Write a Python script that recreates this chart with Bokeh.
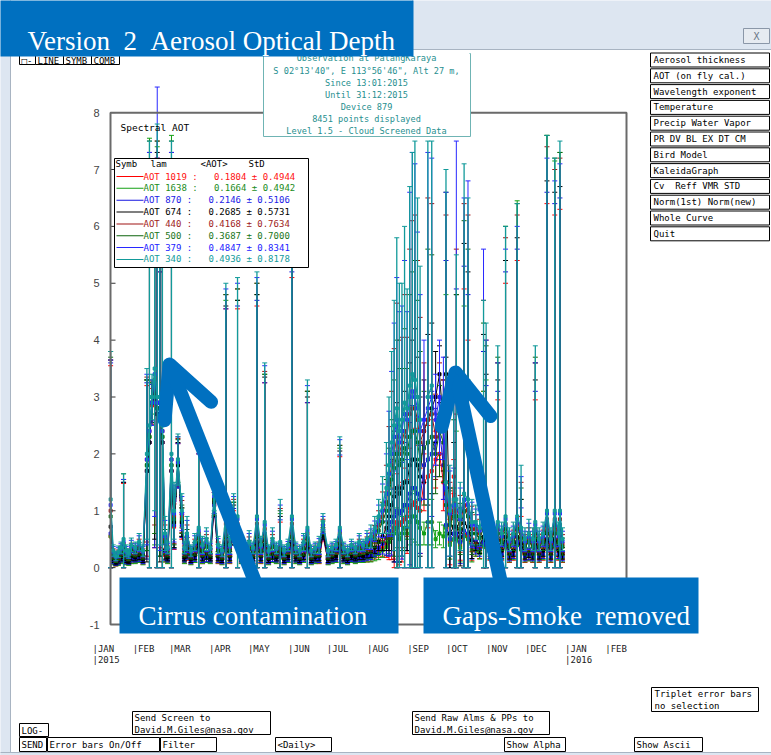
import re
import numpy as np
from bokeh.plotting import figure
from bokeh.models import Label, BoxAnnotation, Arrow, OpenHead, Range1d, ColumnDataSource
from bokeh.core.properties import value
from bokeh.embed import file_html
from bokeh.resources import INLINE

nan = float("nan")

# ---------------- data: day of year 2015, daily mean AOT and daily standard deviation ----------------
days = [15, 17, 19, 21, 23, 25, 27, 29, 31,
        34, 37, 40, 43, 45, 47, 49, 51, 53, 55, 57, 59,
        62, 64, 67, 70, 72, 74, 77, 80, 83, 86, 89,
        92, 95, 98, 101, 104, 107, 110, 113, 116, 119,
        122, 125, 128, 131, 134, 137, 140, 143, 146, 149,
        152, 155, 158, 161, 164, 167, 170, 173, 176, 179,
        183, 186, 189, 192, 195, 198, 201, 204, 207, 210,
        213, 216, 219, 222, 225, 228, 230, 232, 234, 236, 238, 240, 242,
        244, 246, 248, 250, 252, 254, 257, 260, 263, 266, 269, 272,
        274, 277, 280, 282, 285, 288, 291, 294, 297, 300, 303,
        305, 308, 311, 314, 317, 320, 323, 326, 329, 332,
        335, 338, 341, 343, 346, 349, 352, 355, 358, 361, 362, 364]

aot340 = [1.2, 0.3, 0.2, 0.28, 0.35, 0.5, 0.3, 0.25, 0.4,
          0.35, 0.45, 0.3, 2.0, 2.5, 3.0, 3.5, 3.0, 3.0, 2.5, 0.6, 0.35,
          2.0, 1.0, 1.9, 1.0, 0.35, 0.6, 0.3, 0.45, 0.7, 0.4, 0.5,
          0.35, 1.3, 0.4, 0.3, 0.9, 0.4, 0.9, 0.9, 0.35, 0.3,
          0.45, 0.35, 0.9, 0.4, 0.8, 0.3, 0.5, 0.35, 0.45, 0.3,
          0.4, 0.9, 0.35, 0.3, 0.45, 0.7, 0.3, 0.35, 0.4, 0.8,
          0.3, 0.35, 0.4, 0.7, 0.35, 0.3, 0.4, 0.35, 0.45, 0.4,
          0.5, 0.55, 0.7, 0.9, 1.1, 1.4, 1.8, 2.2, 2.5, 2.8, 2.4, 2.6, 2.9,
          2.8, 3.2, 3.4, 3.3, 3.0, 2.6, nan, 3.0, 3.2, nan, nan, nan,
          1.5, 1.0, 1.2, 1.2, 0.9, 1.3, 1.2, 0.8, 0.8, 0.7, 0.9,
          0.8, 0.6, 0.5, 0.8, 0.6, 0.9, 0.5, 0.6, 0.9, 0.7,
          0.5, 0.6, 0.5, 0.8, 0.5, 0.6, 1.0, 0.5, 1.0, 0.6, 1.0, 0.5]
std340 = [2.6, 0.1, 0.08, 0.1, 0.1, 1.15, 0.1, 0.08, 0.12,
          0.1, 0.15, 0.1, 1.5, 5.0, 0.4, 2.5, 4.8, 2.6, 3.5, 0.3, 0.1,
          5.5, 0.5, 0.45, 0.3, 0.1, 0.3, 0.1, 0.15, 1.6, 0.15, 0.2,
          0.1, 0.3, 0.15, 0.1, 4.1, 0.15, 0.4, 4.2, 0.1, 0.1,
          0.2, 0.1, 4.3, 0.15, 2.8, 0.1, 0.2, 0.1, 0.75, 0.1,
          0.1, 4.8, 0.1, 0.1, 0.15, 2.6, 0.1, 0.1, 0.15, 0.15,
          0.1, 0.1, 0.1, 1.6, 0.1, 0.1, 0.1, 0.1, 0.15, 0.1,
          0.15, 0.2, 0.2, 0.3, 0.5, 0.8, 1.2, 1.6, 2.2, 3.0, 2.6, 2.4, 3.1,
          2.1, 3.5, 3.9, 4.2, 3.5, 2.7, nan, 4.5, 4.3, nan, nan, nan,
          5.5, 0.8, 2.3, 4.3, 0.6, 5.8, 5.3, 0.4, 0.3, 0.3, 3.8,
          3.5, 0.2, 0.2, 3.1, 0.2, 5.1, 0.2, 0.2, 5.5, 1.1,
          0.2, 0.25, 0.2, 3.1, 0.2, 0.2, 6.6, 0.2, 6.2, 0.2, 6.5, 0.2]

aot379 = [1.1, 0.28, 0.19, 0.26, 0.33, 0.45, 0.28, 0.23, 0.37,
          0.33, 0.42, 0.28, 1.9, 2.4, 2.9, 3.4, 2.9, 2.9, 2.4, 0.55, 0.33,
          1.9, 0.95, 1.85, 0.95, 0.33, 0.55, 0.28, 0.42, 0.65, 0.37, 0.46,
          0.33, 1.25, 0.37, 0.28, 0.85, 0.37, 0.85, 0.85, 0.33, 0.28,
          0.42, 0.33, 0.85, 0.37, 0.75, 0.28, 0.46, 0.33, 0.42, 0.28,
          0.37, 0.85, 0.33, 0.28, 0.42, 0.65, 0.28, 0.33, 0.37, 0.75,
          0.28, 0.33, 0.37, 0.65, 0.33, 0.28, 0.37, 0.33, 0.42, 0.37,
          0.46, 0.5, 0.64, 0.82, 1.0, 1.3, 1.65, 2.0, 2.3, 2.6, 2.2, 2.4, 2.7,
          2.6, 3.0, 3.1, 3.0, 2.8, 2.4, 2.6, 2.8, 3.0, 2.6, 3.0, 2.8,
          1.4, 0.95, 1.1, 1.1, 0.85, 1.2, 1.1, 0.75, 0.75, 0.65, 0.85,
          0.75, 0.55, 0.46, 0.75, 0.55, 0.85, 0.46, 0.55, 0.85, 0.65,
          0.46, 0.55, 0.46, 0.75, 0.46, 0.55, 0.95, 0.46, 0.95, 0.55, 0.95, 0.46]
std379 = [2.55, 0.09, 0.07, 0.09, 0.09, 1.1, 0.09, 0.07, 0.11,
          0.09, 0.14, 0.09, 1.5, 4.9, 0.4, 2.5, 5.55, 2.6, 3.5, 0.28, 0.09,
          5.4, 0.5, 0.45, 0.3, 0.09, 0.28, 0.09, 0.14, 1.6, 0.14, 0.18,
          0.09, 0.3, 0.14, 0.09, 4.05, 0.14, 0.4, 4.15, 0.09, 0.09,
          0.18, 0.09, 4.25, 0.14, 2.8, 0.09, 0.18, 0.09, 0.68, 0.09,
          0.09, 4.75, 0.09, 0.09, 0.14, 2.55, 0.09, 0.09, 0.14, 0.15,
          0.09, 0.09, 0.09, 1.6, 0.09, 0.09, 0.09, 0.09, 0.14, 0.09,
          0.14, 0.18, 0.18, 0.28, 0.47, 0.7, 1.1, 1.45, 2.0, 2.5, 2.3, 2.2, 2.7,
          1.9, 3.6, 4.2, 4.1, 3.1, 2.4, 1.4, 4.5, 4.2, 0.8, 1.0, 0.9,
          5.2, 0.75, 2.1, 6.4, 0.55, 5.3, 5.7, 0.4, 0.28, 0.28, 4.75,
          3.25, 0.18, 0.18, 2.85, 0.18, 4.75, 0.18, 0.18, 5.15, 0.95,
          0.18, 0.23, 0.18, 2.85, 0.18, 0.18, 6.25, 0.18, 5.85, 0.18, 6.15, 0.18]

aot440 = [1.0, 0.25, 0.17, 0.23, 0.3, 0.42, 0.25, 0.2, 0.33,
          0.3, 0.38, 0.25, 1.9, 2.4, 2.9, 3.3, 2.9, 2.9, 2.4, 0.5, 0.3,
          1.9, 0.9, 1.85, 0.9, 0.3, 0.5, 0.25, 0.38, 0.6, 0.33, 0.42,
          0.3, 1.2, 0.33, 0.25, 0.77, 0.33, 0.82, 0.77, 0.3, 0.25,
          0.38, 0.3, 0.77, 0.33, 0.68, 0.25, 0.42, 0.3, 0.38, 0.25,
          0.33, 0.77, 0.3, 0.25, 0.38, 0.6, 0.25, 0.3, 0.33, 0.72,
          0.25, 0.3, 0.33, 0.6, 0.3, 0.25, 0.33, 0.3, 0.38, 0.33,
          0.42, 0.45, 0.58, 0.75, 0.9, 1.15, 1.5, 1.8, 2.0, 2.3, 2.0, 2.2, 2.4,
          2.3, 2.7, 2.8, 2.8, 2.6, 2.2, 2.4, 2.6, 2.7, 2.3, 2.7, 2.5,
          1.3, 0.85, 1.0, 1.0, 0.77, 1.1, 1.0, 0.68, 0.68, 0.6, 0.77,
          0.68, 0.5, 0.42, 0.68, 0.5, 0.77, 0.42, 0.5, 0.77, 0.6,
          0.42, 0.5, 0.42, 0.68, 0.42, 0.5, 0.85, 0.42, 0.85, 0.5, 0.85, 0.42]
std440 = [2.65, 0.08, 0.07, 0.08, 0.08, 1.13, 0.08, 0.07, 0.1,
          0.08, 0.12, 0.08, 1.45, 4.9, 0.38, 2.55, 4.6, 2.55, 3.45, 0.25, 0.08,
          5.4, 0.48, 0.42, 0.28, 0.08, 0.25, 0.08, 0.12, 1.58, 0.12, 0.16,
          0.08, 0.28, 0.12, 0.08, 4.03, 0.12, 0.38, 4.13, 0.08, 0.08,
          0.16, 0.08, 4.23, 0.12, 2.77, 0.08, 0.16, 0.08, 0.66, 0.08,
          0.08, 4.73, 0.08, 0.08, 0.12, 2.5, 0.08, 0.08, 0.12, 0.13,
          0.08, 0.08, 0.08, 1.55, 0.08, 0.08, 0.08, 0.08, 0.12, 0.08,
          0.12, 0.16, 0.16, 0.25, 0.43, 0.65, 0.98, 1.3, 1.85, 2.35, 2.0, 1.85, 2.4,
          1.75, 2.9, 3.3, 3.4, 2.8, 2.2, 1.2, 3.9, 3.7, 0.75, 0.9, 0.8,
          4.9, 0.65, 2.0, 4.6, 0.5, 5.3, 5.2, 0.4, 0.25, 0.25, 3.93,
          3.32, 0.16, 0.16, 2.92, 0.16, 5.03, 0.16, 0.16, 5.43, 0.9,
          0.16, 0.2, 0.16, 2.92, 0.16, 0.16, 6.55, 0.16, 6.15, 0.16, 6.35, 0.16]

aot500 = [0.9, 0.22, 0.15, 0.2, 0.26, 0.38, 0.22, 0.18, 0.3,
          0.26, 0.33, 0.22, 1.8, 2.3, 2.9, 3.2, 2.8, 2.8, 2.3, 0.45, 0.26,
          1.8, 0.85, 1.85, 0.85, 0.26, 0.45, 0.22, 0.33, 0.52, 0.3, 0.37,
          0.26, 1.2, 0.3, 0.22, 0.68, 0.3, 0.8, 0.68, 0.26, 0.22,
          0.33, 0.26, 0.68, 0.3, 0.6, 0.22, 0.37, 0.26, 0.34, 0.22,
          0.3, 0.68, 0.26, 0.22, 0.33, 0.52, 0.22, 0.26, 0.3, 0.7,
          0.22, 0.26, 0.3, 0.52, 0.26, 0.22, 0.3, 0.26, 0.33, 0.3,
          0.37, 0.4, 0.5, 0.65, 0.8, 1.0, 1.3, 1.55, 1.75, 2.0, 1.8, 1.9, 2.1,
          2.0, 2.3, 2.4, 2.4, 2.2, 1.9, 2.1, 2.2, 2.3, 2.0, 2.4, 2.2,
          1.1, 0.75, 0.9, 0.9, 0.68, 1.0, 0.9, 0.6, 0.6, 0.52, 0.68,
          0.6, 0.45, 0.37, 0.6, 0.45, 0.68, 0.37, 0.45, 0.68, 0.52,
          0.37, 0.45, 0.37, 0.6, 0.37, 0.45, 0.75, 0.37, 0.75, 0.45, 0.75, 0.37]
std500 = [2.8, 0.07, 0.06, 0.07, 0.08, 1.17, 0.07, 0.06, 0.09,
          0.07, 0.11, 0.07, 1.5, 5.2, 0.35, 2.6, 4.7, 2.6, 3.5, 0.22, 0.07,
          5.7, 0.45, 0.4, 0.25, 0.07, 0.22, 0.07, 0.11, 1.63, 0.11, 0.15,
          0.07, 0.28, 0.11, 0.07, 4.12, 0.11, 0.35, 4.22, 0.07, 0.07,
          0.15, 0.07, 4.32, 0.11, 2.8, 0.07, 0.15, 0.07, 0.66, 0.07,
          0.07, 4.82, 0.07, 0.07, 0.11, 2.58, 0.07, 0.07, 0.11, 0.12,
          0.07, 0.07, 0.07, 1.63, 0.07, 0.07, 0.07, 0.07, 0.11, 0.07,
          0.11, 0.15, 0.15, 0.22, 0.35, 0.55, 0.8, 1.05, 1.55, 2.0, 1.7, 1.6, 2.1,
          1.5, 2.5, 2.8, 3.0, 2.5, 1.9, 1.0, 3.4, 3.2, 0.7, 0.8, 0.7,
          5.5, 0.6, 1.7, 3.9, 0.45, 5.1, 4.7, 0.37, 0.22, 0.22, 3.62,
          3.3, 0.15, 0.15, 3.1, 0.15, 5.32, 0.15, 0.15, 5.72, 0.88,
          0.15, 0.18, 0.15, 3.1, 0.15, 0.15, 6.85, 0.15, 6.45, 0.15, 6.55, 0.15]

aot674 = [0.72, 0.15, 0.1, 0.14, 0.18, 0.3, 0.15, 0.12, 0.2,
          0.18, 0.22, 0.15, 1.7, 2.2, 2.9, 3.1, 2.7, 2.7, 2.2, 0.3, 0.18,
          1.7, 0.8, 1.8, 0.8, 0.18, 0.35, 0.15, 0.22, 0.42, 0.2, 0.25,
          0.18, 1.15, 0.2, 0.15, 0.54, 0.2, 0.75, 0.54, 0.18, 0.15,
          0.22, 0.18, 0.54, 0.2, 0.48, 0.15, 0.25, 0.18, 0.27, 0.15,
          0.2, 0.54, 0.18, 0.15, 0.22, 0.42, 0.15, 0.18, 0.2, 0.6,
          0.15, 0.18, 0.2, 0.42, 0.18, 0.15, 0.2, 0.18, 0.22, 0.2,
          0.25, 0.28, 0.35, 0.45, 0.55, 0.7, 0.9, 1.1, 1.25, 1.4, 1.3, 1.4, 1.5,
          1.5, 1.8, 1.9, 1.9, 1.8, 1.6, 2.4, 2.6, 2.8, 3.0, 3.4, 2.5,
          3.4, 0.6, 0.72, 0.72, 0.54, 0.78, 0.72, 0.48, 0.45, 0.4, 0.54,
          0.48, 0.3, 0.25, 0.48, 0.3, 0.54, 0.25, 0.3, 0.54, 0.42,
          0.25, 0.3, 0.25, 0.48, 0.25, 0.3, 0.6, 0.25, 0.6, 0.3, 0.6, 0.25]
std674 = [2.93, 0.06, 0.05, 0.06, 0.06, 1.2, 0.06, 0.05, 0.07,
          0.06, 0.08, 0.06, 1.6, 4.9, 0.35, 2.6, 4.6, 2.6, 3.5, 0.15, 0.06,
          5.4, 0.45, 0.4, 0.25, 0.06, 0.18, 0.06, 0.08, 1.68, 0.08, 0.1,
          0.06, 0.25, 0.08, 0.06, 4.06, 0.08, 0.35, 4.16, 0.06, 0.06,
          0.1, 0.06, 4.26, 0.08, 2.87, 0.06, 0.1, 0.06, 0.63, 0.06,
          0.06, 4.76, 0.06, 0.06, 0.08, 2.58, 0.06, 0.06, 0.08, 0.1,
          0.06, 0.06, 0.06, 1.63, 0.06, 0.06, 0.06, 0.06, 0.08, 0.06,
          0.08, 0.1, 0.1, 0.15, 0.25, 0.4, 0.6, 0.8, 1.15, 1.5, 1.2, 1.2, 1.6,
          1.2, 1.8, 2.1, 2.3, 1.9, 1.4, 0.9, 1.5, 1.5, 0.8, 0.5, 0.8,
          0.3, 0.8, 1.48, 4.08, 0.51, 4.92, 4.48, 0.32, 0.15, 0.15, 3.56,
          2.92, 0.1, 0.1, 2.82, 0.1, 4.86, 0.1, 0.1, 5.26, 0.78,
          0.1, 0.12, 0.1, 2.82, 0.1, 0.1, 6.2, 0.1, 6.0, 0.1, 6.1, 0.1]

aot870 = [0.6, 0.12, 0.08, 0.11, 0.15, 0.25, 0.12, 0.1, 0.16,
          0.15, 0.18, 0.12, 1.7, 2.2, 2.9, 3.0, 2.7, 2.7, 2.2, 0.27, 0.15,
          1.7, 0.75, 1.8, 0.75, 0.15, 0.3, 0.12, 0.18, 0.35, 0.16, 0.2,
          0.15, 1.1, 0.16, 0.12, 0.45, 0.16, 0.72, 0.45, 0.15, 0.12,
          0.18, 0.15, 0.45, 0.16, 0.4, 0.12, 0.2, 0.15, 0.22, 0.12,
          0.16, 0.45, 0.15, 0.12, 0.18, 0.35, 0.12, 0.15, 0.16, 0.58,
          0.12, 0.15, 0.16, 0.35, 0.15, 0.12, 0.16, 0.15, 0.18, 0.16,
          0.2, 0.22, 0.27, 0.35, 0.42, 0.52, 0.65, 0.8, 0.9, 1.0, 0.95, 1.0, 1.1,
          1.1, 1.3, 1.4, 1.4, 1.3, 1.2, 1.8, 1.9, 2.0, 2.2, 2.4, 1.8,
          0.75, 0.5, 0.6, 0.6, 0.45, 0.65, 0.6, 0.4, 0.36, 0.32, 0.45,
          0.4, 0.24, 0.2, 0.4, 0.24, 0.45, 0.2, 0.24, 0.45, 0.35,
          0.2, 0.24, 0.2, 0.4, 0.2, 0.24, 0.5, 0.2, 0.5, 0.24, 0.5, 0.2]
std870 = [3.0, 0.05, 0.04, 0.05, 0.05, 1.25, 0.05, 0.04, 0.06,
          0.05, 0.07, 0.05, 1.55, 4.9, 0.32, 2.65, 4.5, 2.5, 3.45, 0.14, 0.05,
          5.4, 0.42, 0.38, 0.22, 0.05, 0.15, 0.05, 0.07, 1.65, 0.07, 0.09,
          0.05, 0.22, 0.07, 0.05, 4.1, 0.07, 0.32, 4.15, 0.05, 0.05,
          0.09, 0.05, 4.25, 0.07, 2.85, 0.05, 0.09, 0.05, 0.62, 0.05,
          0.05, 4.75, 0.05, 0.05, 0.07, 2.55, 0.05, 0.05, 0.07, 0.09,
          0.05, 0.05, 0.05, 1.63, 0.05, 0.05, 0.05, 0.05, 0.07, 0.05,
          0.07, 0.08, 0.08, 0.12, 0.18, 0.3, 0.45, 0.58, 0.8, 1.05, 0.85, 0.85, 1.1,
          0.8, 1.25, 1.45, 1.6, 1.35, 0.95, 0.6, 1.1, 1.1, 0.6, 0.5, 0.6,
          4.65, 0.6, 1.15, 4.3, 0.38, 4.65, 4.2, 0.25, 0.12, 0.12, 3.35,
          2.8, 0.08, 0.08, 2.7, 0.08, 4.75, 0.08, 0.08, 5.15, 0.7,
          0.08, 0.1, 0.08, 2.7, 0.08, 0.08, 6.1, 0.08, 5.9, 0.08, 6.0, 0.08]

aot1019 = [0.55, 0.1, 0.06, 0.09, 0.12, 0.22, 0.1, 0.08, 0.13,
           0.12, 0.15, 0.1, 1.7, 2.2, 2.85, 3.0, 2.7, 2.7, 2.2, 0.22, 0.12,
           1.7, 0.72, 1.8, 0.72, 0.12, 0.26, 0.1, 0.15, 0.32, 0.13, 0.17,
           0.12, 1.1, 0.13, 0.1, 0.4, 0.13, 0.7, 0.4, 0.12, 0.1,
           0.15, 0.12, 0.4, 0.13, 0.36, 0.1, 0.17, 0.12, 0.2, 0.1,
           0.13, 0.4, 0.12, 0.1, 0.15, 0.32, 0.1, 0.12, 0.13, 0.55,
           0.1, 0.12, 0.13, 0.32, 0.12, 0.1, 0.13, 0.12, 0.15, 0.13,
           0.16, 0.18, 0.22, 0.28, 0.34, 0.42, 0.52, 0.62, 0.7, 0.8, 0.75, 0.8, 0.85,
           0.9, 1.05, 1.1, 1.15, 1.05, 1.0, 1.5, 1.6, 1.7, 1.9, 2.0, 1.5,
           1.5, 0.45, 1.6, 0.55, 0.4, 0.58, 0.55, 0.32, 0.3, 0.26, 0.4,
           0.36, 0.2, 0.16, 0.36, 0.2, 0.4, 0.16, 0.2, 0.4, 0.32,
           0.16, 0.2, 0.16, 0.36, 0.16, 0.2, 0.45, 0.16, 0.45, 0.2, 0.45, 0.16]
std1019 = [3.0, 0.04, 0.03, 0.04, 0.04, 1.26, 0.04, 0.03, 0.05,
           0.04, 0.06, 0.04, 1.5, 4.9, 0.3, 2.65, 4.5, 2.5, 3.45, 0.12, 0.04,
           5.4, 0.4, 0.38, 0.22, 0.04, 0.13, 0.04, 0.06, 1.68, 0.06, 0.08,
           0.04, 0.22, 0.06, 0.04, 4.15, 0.06, 0.3, 4.15, 0.04, 0.04,
           0.08, 0.04, 4.2, 0.06, 2.89, 0.04, 0.08, 0.04, 0.6, 0.04,
           0.04, 4.7, 0.04, 0.04, 0.06, 2.58, 0.04, 0.04, 0.06, 0.08,
           0.04, 0.04, 0.04, 1.63, 0.04, 0.04, 0.04, 0.04, 0.06, 0.04,
           0.06, 0.07, 0.07, 0.1, 0.14, 0.24, 0.38, 0.48, 0.7, 0.85, 0.7, 0.7, 0.9,
           0.65, 1.05, 1.25, 1.3, 1.1, 0.75, 0.5, 0.9, 0.9, 0.5, 0.4, 0.5,
           0.3, 0.4, 0.3, 2.15, 0.27, 4.32, 3.45, 0.2, 0.1, 0.1, 2.7,
           2.44, 0.07, 0.07, 2.59, 0.07, 4.6, 0.07, 0.07, 5.0, 0.58,
           0.07, 0.08, 0.07, 2.59, 0.07, 0.07, 5.95, 0.07, 5.75, 0.07, 5.85, 0.07]

aot1638 = [0.55, 0.1, 0.07, 0.09, 0.12, 0.22, 0.1, 0.08, 0.13,
           0.12, 0.15, 0.1, 1.8, 2.3, 3.0, 3.1, 2.8, 2.8, 2.3, 0.25, 0.12,
           1.8, 0.8, 1.9, 0.8, 0.12, 0.3, 0.1, 0.15, 0.32, 0.13, 0.17,
           0.12, 1.2, 0.14, 0.1, 0.4, 0.14, 0.8, 0.4, 0.12, 0.1,
           0.15, 0.12, 0.4, 0.14, 0.36, 0.1, 0.17, 0.12, 0.2, 0.1,
           0.14, 0.4, 0.12, 0.1, 0.15, 0.32, 0.1, 0.12, 0.14, 0.65,
           0.1, 0.12, 0.14, 0.32, 0.12, 0.1, 0.14, 0.12, 0.15, 0.14,
           0.16, 0.17, 0.2, 0.24, 0.3, 0.36, 0.45, 0.55, 0.6, 0.7, 0.5, 0.6, 0.7,
           0.6, 0.8, 0.9, 0.9, 0.8, 0.7, 0.6, 0.8, 0.8, 0.5, 0.6, 0.55,
           0.7, 0.4, 0.5, 0.5, 0.35, 0.55, 0.5, 0.3, 0.3, 0.25, 0.4,
           0.36, 0.22, 0.18, 0.36, 0.22, 0.4, 0.18, 0.22, 0.4, 0.32,
           0.18, 0.22, 0.18, 0.36, 0.18, 0.22, 0.45, 0.18, 0.45, 0.22, 0.45, 0.18]
std1638 = [3.25, 0.05, 0.04, 0.05, 0.05, 1.43, 0.05, 0.04, 0.06,
           0.05, 0.06, 0.05, 1.5, 5.25, 0.3, 2.7, 4.6, 2.6, 3.5, 0.15, 0.05,
           5.8, 0.45, 0.4, 0.25, 0.05, 0.15, 0.05, 0.06, 1.83, 0.06, 0.08,
           0.05, 0.25, 0.06, 0.05, 4.3, 0.06, 0.35, 4.3, 0.05, 0.05,
           0.08, 0.05, 4.4, 0.06, 3.04, 0.05, 0.08, 0.05, 0.75, 0.05,
           0.05, 4.9, 0.05, 0.05, 0.06, 2.78, 0.05, 0.05, 0.06, 0.1,
           0.05, 0.05, 0.05, 1.78, 0.05, 0.05, 0.05, 0.05, 0.06, 0.05,
           0.06, 0.07, 0.08, 0.1, 0.12, 0.15, 0.2, 0.25, 0.3, 0.35, 0.3, 0.3, 0.35,
           0.3, 0.4, 0.4, 0.45, 0.4, 0.3, 0.2, 0.4, 0.4, 0.15, 0.2, 0.2,
           4.1, 0.4, 0.9, 1.9, 0.25, 4.05, 2.8, 0.2, 0.1, 0.1, 2.7,
           2.94, 0.08, 0.08, 3.24, 0.08, 5.6, 0.08, 0.08, 6.05, 0.88,
           0.08, 0.1, 0.08, 3.24, 0.08, 0.08, 7.15, 0.08, 6.7, 0.08, 6.85, 0.08]

wavelengths = ["1019", "1638", "870", "674", "440", "500", "379", "340"]
mean_text = ["0.1804", "0.1664", "0.2146", "0.2685", "0.4168", "0.3687", "0.4847", "0.4936"]
std_text = ["0.4944", "0.4942", "0.5106", "0.5731", "0.7634", "0.7000", "0.8341", "0.8178"]

month_days = [1, 32, 60, 91, 121, 152, 182, 213, 244, 274, 305, 335, 366, 397]
month_names = ["JAN", "FEB", "MAR", "APR", "MAY", "JUN", "JUL", "AUG", "SEP", "OCT", "NOV", "DEC", "JAN", "FEB"]
month_years = ["2015", "", "", "", "", "", "", "", "", "", "", "", "2016", ""]
y_ticks = [-1, 0, 1, 2, 3, 4, 5, 6, 7, 8]

right_buttons = ["Aerosol thickness", "AOT (on fly cal.)", "Wavelength exponent", "Temperature",
                 "Precip Water Vapor", "PR DV BL EX DT CM", "Bird Model", "KaleidaGraph",
                 "Cv  Reff VMR STD", "Norm(1st) Norm(new)", "Whole Curve", "Quit"]
info_lines = ["Observation at PalangKaraya", "S 02\u00b013'40\", E 113\u00b056'46\", Alt 27 m,",
              "Since 13:01:2015", "Until 31:12:2015", "Device 879",
              "8451 points displayed", "Level 1.5 - Cloud Screened Data"]

series_data = {"1019": (aot1019, std1019), "1638": (aot1638, std1638), "870": (aot870, std870),
               "674": (aot674, std674), "440": (aot440, std440), "500": (aot500, std500),
               "379": (aot379, std379), "340": (aot340, std340)}

# ---------------- styles / layout ----------------
colors = {"1019": "#ff0000", "1638": "#14a014", "870": "#1414e0", "674": "#000000",
          "440": "#a01414", "500": "#0c640c", "379": "#2828ff", "340": "#129a9a"}
text_colors = {"1019": "#ff1010", "1638": "#1a8c1a", "870": "#1a1ae6", "674": "#000000",
               "440": "#a01c1c", "500": "#1a761a", "379": "#2222ff", "340": "#139b9b"}
MONO = "DejaVu Sans Mono"
SERIF = "Liberation Serif"
BLUE = "#0070c0"

W, H = 771, 755
PX_PER_DAY = 1.2948          # horizontal scale, pixels per day
X_JAN1 = 92                   # pixel column of 1 Jan 2015
PX_PER_UNIT = 56.875          # vertical scale, pixels per AOT unit
Y_MINUS1 = 624                # pixel row of AOT = -1
FRAME_L, FRAME_R = 110, 626   # pixel columns of the plot box


def day_at(X):
    return 1 + (X - X_JAN1) / PX_PER_DAY


def aot_at(Y):
    return -1 + (Y_MINUS1 - Y) / PX_PER_UNIT


p = figure(width=W, height=H, output_backend="svg", toolbar_location=None,
           x_range=Range1d(day_at(0), day_at(W)), y_range=Range1d(aot_at(H), aot_at(0)),
           min_border=0, x_axis_location=None, y_axis_location=None)
p.outline_line_color = None
p.grid.visible = False
p.background_fill_color = "white"
p.border_fill_color = "white"


def sx(X):
    return X


def sy(Y):
    return H - Y


def keep_spaces(t):
    return re.sub(r" {2,}", lambda mm: "\u00a0" * len(mm.group(0)), t)


def box(x0, y0, x1, y1, fill="white", line="black", lw=1):
    p.add_layout(BoxAnnotation(left=sx(x0), right=sx(x1), top=sy(y0), bottom=sy(y1),
                               left_units="screen", right_units="screen",
                               top_units="screen", bottom_units="screen",
                               fill_color=fill, fill_alpha=1.0 if fill else 0.0,
                               line_color=line, line_alpha=1.0, line_width=lw, line_dash="solid"))


def text(X, Y, t, size="9px", color="black", font=MONO, align="left", baseline="middle"):
    p.add_layout(Label(x=sx(X), y=sy(Y), x_units="screen", y_units="screen", text=keep_spaces(t),
                       text_font=font, text_font_size=size, text_color=color,
                       text_align=align, text_baseline=baseline))


# ---------------- data glyphs ----------------
x = np.array(days, dtype=float)
for wl in wavelengths:
    m = np.array(series_data[wl][0], dtype=float)
    s = np.array(series_data[wl][1], dtype=float)
    lo = np.maximum(m - s, 0.0)
    hi = m + s
    src = ColumnDataSource(dict(x=x, m=m, lo=lo, hi=hi))
    c = colors[wl]
    lw = 1.3 if wl == "340" else 1
    p.line("x", "m", source=src, line_color=c, line_width=lw)
    p.segment(x0="x", y0="lo", x1="x", y1="hi", source=src, line_color=c, line_width=lw)
    p.scatter("x", "hi", source=src, marker="dash", size=5, line_color=c, line_width=1)
    p.scatter("x", "lo", source=src, marker="dash", size=5, line_color=c, line_width=1)
    p.scatter("x", "m", source=src, marker="square", size=3, line_color=c, fill_color=c)

# plot box from AOT -1 to 8, with tick marks and tick labels on the left side
p.add_layout(BoxAnnotation(left=day_at(FRAME_L), right=day_at(FRAME_R), bottom=-1, top=8,
                           fill_alpha=0.0, line_color="#6a6a6a", line_alpha=1.0,
                           line_width=2, line_dash="solid"))
p.segment(x0=[day_at(FRAME_L)] * len(y_ticks), y0=y_ticks,
          x1=[day_at(FRAME_L + 5)] * len(y_ticks), y1=y_ticks, line_color="#333333", line_width=1)
p.text(x=[day_at(FRAME_L - 11)] * len(y_ticks), y=y_ticks, text=[str(t) for t in y_ticks],
       text_align="right", text_baseline="middle", text_font=value("Liberation Sans"),
       text_font_size="11px", text_color="#444444")

# month labels below the plot
for d, nm, yr in zip(month_days, month_names, month_years):
    p.add_layout(Label(x=d, y=sy(648), x_units="data", y_units="screen", text="|" + nm,
                       text_font=MONO, text_font_size="9px", text_color="#222222",
                       text_baseline="middle"))
    if yr:
        p.add_layout(Label(x=d, y=sy(659), x_units="data", y_units="screen", text="|" + yr,
                           text_font=MONO, text_font_size="9px", text_color="#222222",
                           text_baseline="middle"))

# ---------------- window chrome ----------------
# info box (its first line is partly hidden under the window top)
box(263, 53, 470, 136, fill="white", line="#6fb4b4")
info_y = [57, 70, 82, 94, 106, 118, 130]
for yy, t in zip(info_y, info_lines):
    text(366, yy, t, size="8.6px", color="#1f8f8f", align="center")
box(264, 46, 469, 54, fill="white", line=None)

box(412, -2, 773, 49, fill="#dde6f1", line="#a8b4c2")
box(-2, -2, 10, 757, fill="#dde6f1", line="#a8b4c2")
box(-2, 752, 773, 757, fill="#dde6f1", line="#a8b4c2")
box(743, 28, 769, 43, fill="#e6ebf1", line="#8a97a8")
text(756, 35.5, "X", size="10px", color="#6a7888", align="center")

# top-left mode buttons (mostly hidden by the banner)
box(19, 50, 35, 64)
box(35, 50, 63, 64)
box(63, 50, 91, 64)
box(91, 50, 119, 64)
text(21, 60, "\u25a1-", size="9px")
text(37, 60, "LINE", size="9px")
text(65, 60, "SYMB", size="9px")
text(93, 60, "COMB", size="9px")

# title banner
box(-2, -2, 413, 56, fill=BLUE, line=None)
text(27, 40, "Version  2  Aerosol Optical Depth", size="27px", color="white", font=SERIF,
     baseline="alphabetic")

# right-side buttons
for i, t in enumerate(right_buttons):
    yc = 59.5 + i * 15.8
    box(650, yc - 7, 769, yc + 7)
    text(653, yc, t, size="9px")

# spectral AOT legend
text(120, 127, "Spectral AOT", size="9.5px")
box(114, 158, 308, 267)
text(115, 163.5, "Symb", size="9px")
text(150, 163.5, "lam", size="9px")
text(200, 163.5, "<AOT>", size="9px")
text(248, 163.5, "StD", size="9px")
for i, wl in enumerate(wavelengths):
    yc = 176 + i * 11.85
    p.add_layout(BoxAnnotation(left=sx(116), right=sx(143), top=sy(yc - 0.5), bottom=sy(yc + 0.5),
                               left_units="screen", right_units="screen", top_units="screen",
                               bottom_units="screen", fill_color=colors[wl], fill_alpha=1.0,
                               line_color=None))
    text(143, yc, "AOT %s :   %s \u00b1 %s" % (wl, mean_text[i], std_text[i]),
         size="9px", color=text_colors[wl])

# callout arrows and boxes
for (xb, yb, xt, yt) in [(256, 585, 169, 364), (501, 585, 455, 372)]:
    p.add_layout(Arrow(x_start=sx(xb), y_start=sy(yb), x_end=sx(xt), y_end=sy(yt),
                       start_units="screen", end_units="screen",
                       line_color=BLUE, line_width=14,
                       end=OpenHead(size=50, line_color=BLUE, line_width=14,
                                    line_cap="round", line_join="round")))
box(119, 577, 398, 633, fill=BLUE, line=None)
text(138, 615, "Cirrus contamination", size="27px", color="white", font=SERIF, baseline="alphabetic")
box(423, 577, 698, 633, fill=BLUE, line=None)
text(442, 615, "Gaps-Smoke  removed", size="27px", color="white", font=SERIF, baseline="alphabetic")

# bottom buttons
box(651, 687, 758, 711)
text(654, 693, "Triplet error bars", size="9px")
text(654, 705, "no selection", size="9px")
box(132, 711, 270, 734)
text(134, 717, "Send Screen to", size="9px")
text(134, 729, "David.M.Giles@nasa.gov", size="9px")
box(412, 711, 549, 734)
text(414, 717, "Send Raw Alms & PPs to", size="9px")
text(414, 729, "David.M.Giles@nasa.gov", size="9px")
box(19, 723, 48, 736)
text(21, 730, "LOG-", size="9px")
for (a0, a1, t) in [(19, 46, "SEND"), (47, 159, "Error bars On/Off"), (160, 216, "Filter"),
                    (275, 331, "<Daily>"), (504, 565, "Show Alpha"), (634, 702, "Show Ascii")]:
    box(a0, 737, a1, 751)
    text(a0 + 2, 744, t, size="9px")

open("out.html", "w").write(file_html(p, INLINE))
